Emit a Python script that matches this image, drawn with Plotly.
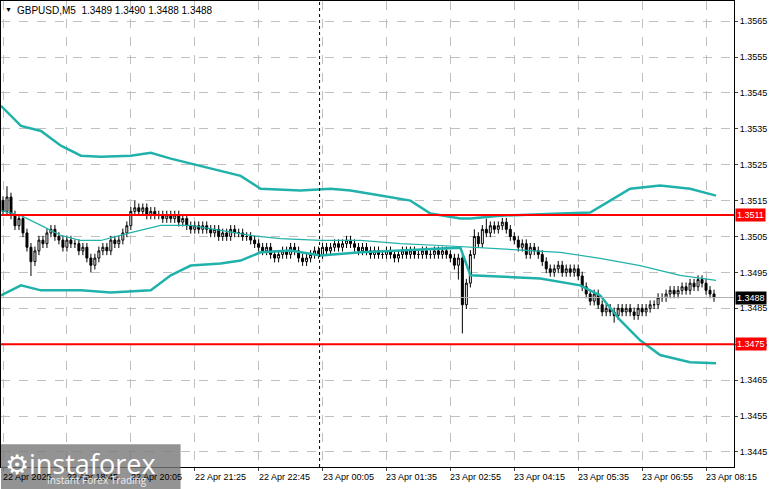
import plotly.graph_objects as go

# closes per M5 bar, bar 0 = 22 Apr 17:25
closes = [1.3512,1.3516,1.3511,1.3508,1.3510, 1.3506,1.3502,1.3498,1.3501,1.3504,
          1.3503,1.3506,1.3507,1.3505,1.3504, 1.3502,1.3504,1.3503,1.3503,1.3501,
          1.3502,1.3499,1.3497,1.3499,1.3501, 1.3502,1.3501,1.3504,1.3503,1.3504,
          1.3506,1.3508,1.3512,1.3513,1.3512, 1.3513,1.3511,1.3512,1.3511,1.3511,
          1.3510,1.3511,1.3510,1.3511,1.3509, 1.3510,1.3508,1.3507,1.3508,1.3507,
          1.3508,1.3507,1.3506,1.3507,1.3505, 1.3506,1.3505,1.3507,1.3506,1.3506,
          1.3505,1.3505,1.3504,1.3503,1.3502, 1.3501,1.3502,1.3500,1.3499,1.3500,
          1.3501,1.3500,1.3502,1.3501,1.3499, 1.3498,1.3499,1.3500,1.3501,1.3500,
          1.3502,1.3501,1.3502,1.3503,1.3502, 1.3503,1.3504,1.3503,1.3502,1.3501,
          1.3502,1.3501,1.3500,1.3501,1.3500, 1.3500,1.3501,1.3500,1.3499,1.3500,
          1.3501,1.3500,1.3501,1.3500,1.3500, 1.3501,1.3500,1.3500,1.3501,1.3500,
          1.3501,1.3500,1.3499,1.3497,1.3499, 1.3486,1.3492,1.3500,1.3505,1.3503,
          1.3507,1.3506,1.3508,1.3507,1.3508, 1.3509,1.3507,1.3505,1.3504,1.3502,
          1.3503,1.3500,1.3502,1.3501,1.3500, 1.3498,1.3496,1.3495,1.3496,1.3497,
          1.3495,1.3496,1.3495,1.3496,1.3494, 1.3491,1.3489,1.3487,1.3489,1.3486,
          1.3484,1.3485,1.3484,1.3483,1.3485, 1.3484,1.3485,1.3484,1.3483,1.3485,
          1.3484,1.3485,1.3486,1.3486,1.3488, 1.3488,1.3489,1.3490,1.3489,1.3490,
          1.3491,1.3490,1.3492,1.3491,1.3493, 1.3492,1.3490,1.3489,1.3488]
first_open = 1.3515
wick = 0.00012
special_highs = {1: 1.3519, 33: 1.3515, 121: 1.3510, 118: 1.3507}
special_lows = {7: 1.3494, 22: 1.3495, 115: 1.3478, 114: 1.3493, 153: 1.3481}

band_x = [-0.5, 4.5, 9.5, 14.5, 19.5, 24.5, 32, 37, 42, 49.5, 59.5, 64.5, 74.5, 82,
          87, 94.5, 102, 107, 114.5, 117, 124.5, 139.5, 147, 152, 157, 164.5, 172, 178.5]
upper = [1.35414,1.35358,1.35344,1.35303,1.35275,1.35272,1.35275,1.35283,1.35267,1.35247,
         1.35219,1.35183,1.35178,1.35183,1.35178,1.35164,1.35150,1.35114,1.35100,1.35100,
         1.35108,1.35114,1.35117,1.35150,1.35183,1.35192,1.35183,1.35164]
ma_x = [-0.5, 4.5, 9.5, 14.5, 19.5, 24.5, 32, 39.5, 47, 54.5, 62, 69.5, 79.5, 89.5,
        99.5, 109.5, 114.5, 122, 129.5, 139.5, 149.5, 159.5, 169.5, 178.5]
ma = [1.35122,1.35108,1.35081,1.35053,1.35039,1.35039,1.35061,1.35081,1.35081,1.35067,
      1.35053,1.35044,1.35039,1.35039,1.35030,1.35025,1.35022,1.35017,1.35011,1.35006,
      1.34989,1.34969,1.34942,1.34928]
low_x = [-0.5, 4.5, 9.5, 19.5, 27, 37, 42, 47, 54.5, 59.5, 64.5, 72, 79.5, 89.5, 99.5,
         109.5, 114.5, 117, 122, 134.5, 144.5, 149.5, 154.5, 159.5, 164.5, 172, 178.5]
lower = [1.34886,1.34914,1.34900,1.34900,1.34894,1.34900,1.34942,1.34969,1.34975,1.34983,
         1.35006,1.35011,1.34997,1.35006,1.35011,1.35017,1.35019,1.34942,1.34939,1.34933,
         1.34914,1.34886,1.34817,1.34761,1.34720,1.34700,1.34697]

levels = [1.3511, 1.3475]
last_price = 1.3488
tick_idx = [0, 16, 32, 48, 64, 80, 96, 112, 128, 144, 160, 176]
tick_text = ["22 Apr 2025", "22 Apr 18:45", "22 Apr 20:05", "22 Apr 21:25", "22 Apr 22:45",
             "23 Apr 00:05", "23 Apr 01:35", "23 Apr 02:55", "23 Apr 04:15", "23 Apr 05:35",
             "23 Apr 06:55", "23 Apr 08:15"]
price_ticks = [1.3445 + 0.001 * k for k in range(13)]

opens = [first_open] + closes[:-1]
highs = [special_highs.get(i, max(o, c) + wick) for i, (o, c) in enumerate(zip(opens, closes))]
lows = [special_lows.get(i, min(o, c) - wick) for i, (o, c) in enumerate(zip(opens, closes))]
idx = list(range(len(closes)))

FONT = "Liberation Sans"
teal = "#20b2aa"
fig = go.Figure()
fig.add_trace(go.Scatter(x=band_x, y=upper, mode="lines", line=dict(color=teal, width=2.5)))
fig.add_trace(go.Scatter(x=low_x, y=lower, mode="lines", line=dict(color=teal, width=2.5)))
fig.add_trace(go.Scatter(x=ma_x, y=ma, mode="lines", line=dict(color=teal, width=1.2)))
fig.add_trace(go.Candlestick(x=idx, open=opens, high=highs, low=lows, close=closes,
                             increasing=dict(line=dict(color="black", width=1), fillcolor="white"),
                             decreasing=dict(line=dict(color="black", width=1), fillcolor="black"),
                             whiskerwidth=0))

for lv in levels:
    fig.add_hline(y=lv, line=dict(color="#ff0000", width=2))
    fig.add_annotation(x=1, xref="paper", y=lv, text=f"{lv:.4f}", showarrow=False, xanchor="left",
                       xshift=1, bgcolor="#ff0000", font=dict(color="white", size=9, family=FONT),
                       borderpad=1)
fig.add_hline(y=last_price, line=dict(color="#b0b0b0", width=1))
fig.add_annotation(x=1, xref="paper", y=last_price, text=f"{last_price:.4f}", showarrow=False,
                   xanchor="left", xshift=1, bgcolor="black",
                   font=dict(color="white", size=9, family=FONT), borderpad=1)
fig.add_vline(x=79.25, line=dict(color="black", width=1, dash="dot"))

# x labels, left-aligned at the tick like the terminal does
for i, t in zip(tick_idx, tick_text):
    fig.add_annotation(x=i, y=0, xref="x", yref="paper", yanchor="top", xanchor="left", xshift=-2,
                       yshift=-3, text=t, showarrow=False, font=dict(size=9, family=FONT))

fig.add_annotation(x=0, y=1, xref="paper", yref="paper", xanchor="left", yanchor="top", xshift=14, yshift=-2,
                   text="GBPUSD,M5  1.3489 1.3490 1.3488 1.3488", showarrow=False,
                   font=dict(size=10, color="black", family=FONT))
fig.add_annotation(x=0, y=1, xref="paper", yref="paper", xanchor="left", yanchor="top", xshift=2, yshift=-3,
                   text="▼", showarrow=False, font=dict(size=7, color="black"))
# watermark
fig.add_shape(type="rect", xref="paper", yref="paper", x0=0, x1=0.245, y0=-0.047, y1=0.049,
              fillcolor="rgba(120,120,120,0.8)", line=dict(width=0), layer="above")
fig.add_annotation(x=0.003, y=0.052, xref="paper", yref="paper", xanchor="left", yanchor="top",
                   text="⚙instaforex", showarrow=False, font=dict(size=27, color="white", family="Open Sans"))
fig.add_annotation(x=0.06, y=-0.047, xref="paper", yref="paper", xanchor="left", yanchor="bottom",
                   text="Instant Forex Trading", showarrow=False,
                   font=dict(size=10, color="#eeeeee", family="Open Sans"))

grid = dict(showgrid=True, gridcolor="#c0c0c0", griddash="dash", gridwidth=1)
fig.update_layout(
    width=781, height=489, margin=dict(l=1, r=47, t=1, b=22, autoexpand=False),
    paper_bgcolor="white", plot_bgcolor="white", showlegend=False,
    font=dict(family=FONT, size=9, color="black"),
    xaxis=dict(range=[-0.5, 183], tickvals=tick_idx, showticklabels=False, ticks="outside", ticklen=3,
               rangeslider=dict(visible=False), showline=True, linecolor="black",
               mirror=True, zeroline=False, automargin=False, **grid),
    yaxis=dict(range=[1.34408, 1.35706], side="right", tickvals=price_ticks, tickformat=".4f",
               ticks="outside", ticklen=3, showline=True, linecolor="black", mirror=True,
               zeroline=False, automargin=False, **grid),
)
fig.write_html("out.html", config={"displayModeBar": False})

# drop the browser's default body margin so the chart sits at the window corner
with open("out.html", encoding="utf-8") as f:
    page = f.read()
page = page.replace("<body>", '<body style="margin:0">', 1)
with open("out.html", "w", encoding="utf-8") as f:
    f.write(page)
